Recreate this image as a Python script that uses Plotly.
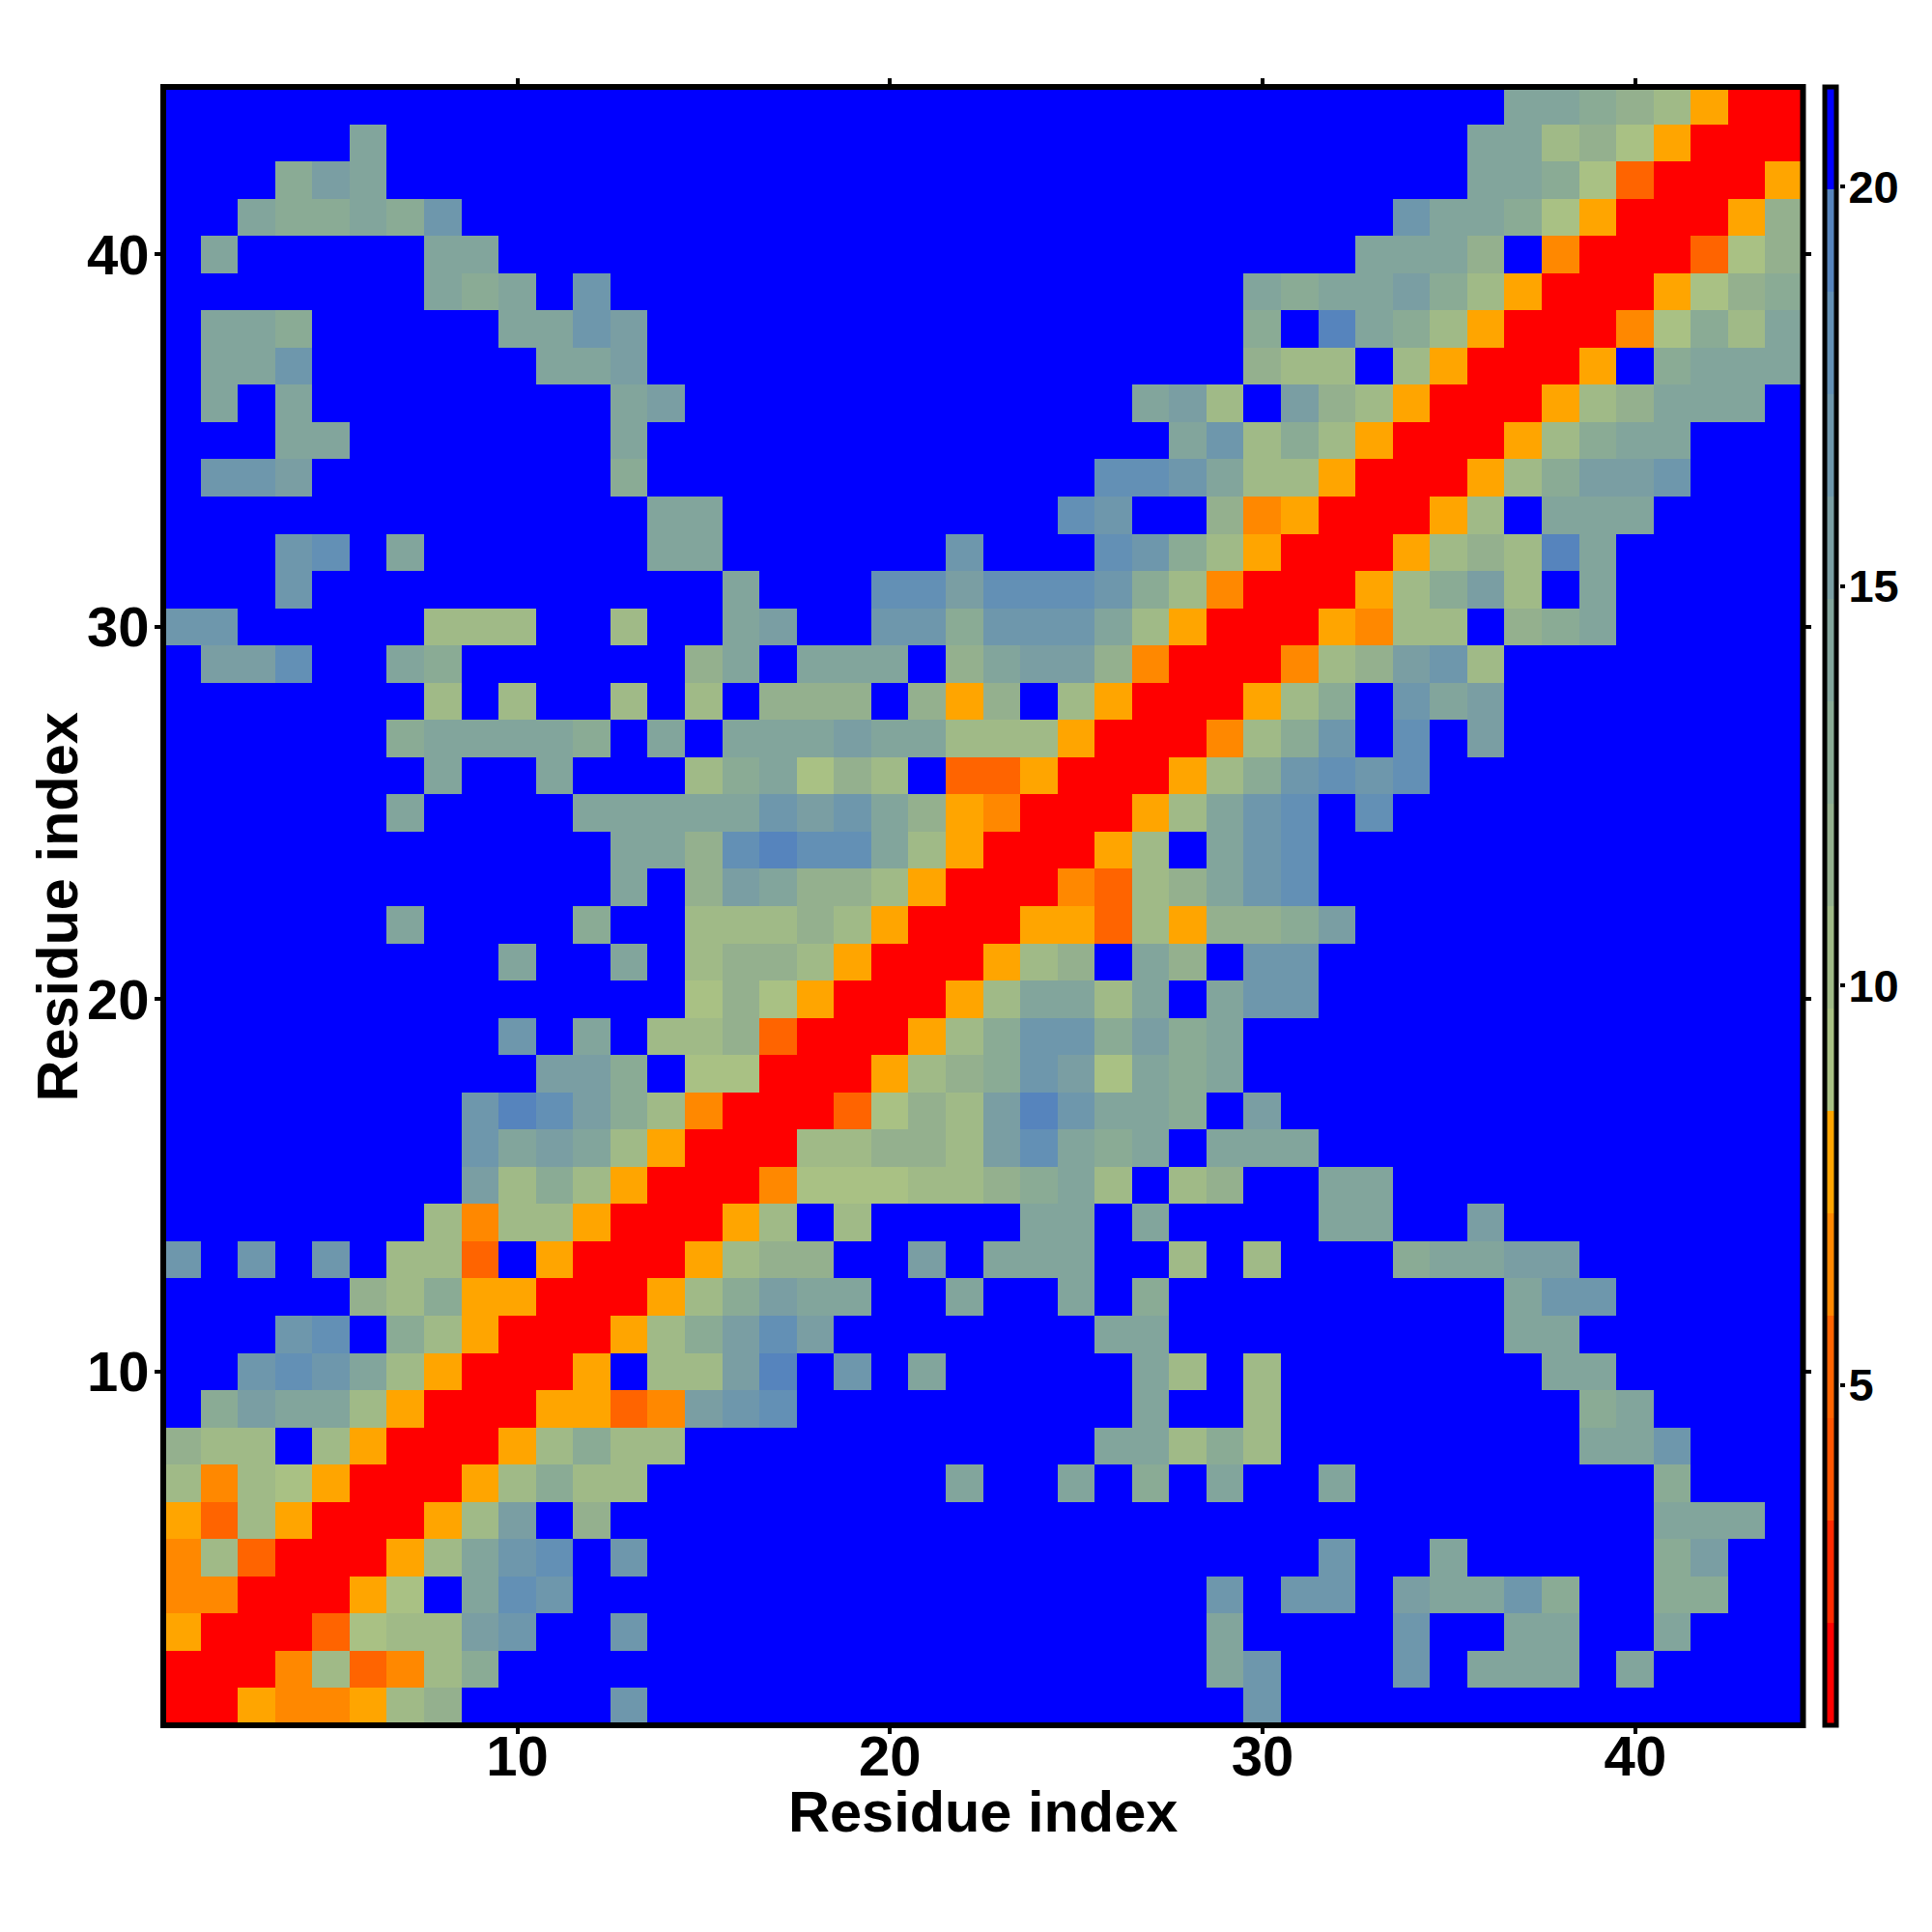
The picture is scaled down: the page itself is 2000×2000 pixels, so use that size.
import plotly.graph_objects as go

# Residue contact-distance map.  Each character is a
# colour band index (hex 0..F); rows run from residue 44 (top) down to residue 1.
left_half = [
    "FFFFFFFFFFFFFFFFFFFFFF", "FFFFFAFFFFFFFFFFFFFFFF", "FFF9BAFFFFFFFFFFFFFFFF", "FFA99A9CFFFFFFFFFFFFFF",
    "FAFFFFFAAFFFFFFFFFFFFF", "FFFFFFFA9AFCFFFFFFFFFF", "FAA9FFFFFAACBFFFFFFFFF", "FAACFFFFFFAABFFFFFFFFF",
    "FAFAFFFFFFFFABFFFFFFFF", "FFFAAFFFFFFFAFFFFFFFFF", "FCCBFFFFFFFF9FFFFFFFFF", "FFFFFFFFFFFFFAAFFFFFFF",
    "FFFCDFAFFFFFFAAFFFFFFC", "FFFCFFFFFFFFFFFAFFFDDB", "CCFFFFF777FF7FFABFFCC9", "FBBDFFA9FFFFFF8AFAAAF8",
    "FFFFFFF7F7FF7F7F888F85", "FFFFFF9AAAA9FAFAAABAA7", "FFFFFFFAFFAFFF79A687F3", "FFFFFFAFFFFAAAAACBCA85",
    "FFFFFFFFFFFFAA8DEDDA75", "FFFFFFFFFFFFAF8BA88750", "FFFFFFAFFFF9FF77787500", "FFFFFFFFFAFFAF78875000",
    "FFFFFFFFFFFFFF68650005", "FFFFFFFFFCFAF778300057", "FFFFFFFFFFBB9F66000578", "FFFFFFFFCEDB9740003687",
    "FFFFFFFFCABA7500077887", "FFFFFFFFB7975000466677", "FFFFFFF7477500057F7FFF", "CFCFCF773F50005788FFBF",
    "FFFFF87955000579BAAFFA", "FFFCDF975000579BDBFFFF", "FFCDCA750005F77BEFCFAF", "F9BAA750005534BCDFFFFF",
    "877F7500057977FFFFFFFF", "7476500057977FFFFFFFFA", "537500057BF8FFFFFFFFFF", "47300057ACDFCFFFFFFFFF",
    "4400056FADCFFFFFFFFFFF", "50003677BCFFCFFFFFFFFF", "000473479FFFFFFFFFFFFF", "00544578FFFFCFFFFFFFFF",
]
right_half = [
    "FFFFFFFFFFFFFFAA987500", "FFFFFFFFFFFFFAA7865000", "FFFFFFFFFFFFFAA9630005", "FFFFFFFFFFFCAA96500058",
    "FFFFFFFFFFAAA8F4000368", "FFFFFFFA9AAB9750005689", "FFFFFFF9FEA9750004697A", "FFFFFFF877F750005F9AAA",
    "FFFFAB7FB875000578AAAF", "FFFFFAC7975000579AAFFF", "FFFDDCA775000579BBCFFF", "FFDCFF84500057FAAAFFFF",
    "FFFDC9750005787EAFFFFF", "DDDC974000579B7FAFFFFF", "CCCA750005477F89AFFFFF", "ABB84000478BC7FFFFFFFF",
    "8F75000579FCABFFFFFFFF", "775000479CFDFBFFFFFFFF", "35000579CDCDFFFFFFFFFF", "400057ACDFDFFFFFFFFFFF",
    "00057FACDFFFFFFFFFFFFF", "004378ACDFFFFFFFFFFFFF", "055375889BFFFFFFFFFFFF", "578FA8FCCFFFFFFFFFFFFF",
    "7AA7AFACCFFFFFFFFFFFFF", "9CC9B9AFFFFFFFFFFFFFFF", "9CB6A9AFFFFFFFFFFFFFFF", "BECAA9FBFFFFFFFFFFFFFF",
    "BDA9AFAAAFFFFFFFFFFFFF", "89A7F78FFAAFFFFFFFFFFF", "FAAFAFFFFAAFFBFFFFFFFF", "AAAFF7F7FFF9AABBFFFFFF",
    "FFAF9FFFFFFFFFACCFFFFF", "FFFAAFFFFFFFFFAAFFFFFF", "FFFFA7F7FFFFFFFAAFFFFF", "FFFFAFF7FFFFFFFF9AFFFF",
    "FFFAA797FFFFFFFFAACFFF", "FFAF9FAFFAFFFFFFFF9FFF", "FFFFFFFFFFFFFFFFFFAAAF", "FFFFFFFFFCFFAFFFFF9BFF",
    "FFFFFFCFCCFBAAC9FF99FF", "FFFFFFAFFFFCFFAAFFAFFF", "FFFFFFACFFFCFAAAFAFFFF", "FFFFFFFCFFFFFFFFFFFFFF",
]
residues = list(range(1, 45))
tick_values = [10, 20, 30, 40]
bar_ticks = [5, 10, 15, 20]
band_colors = ["#ff0000", "#ff2a00", "#ff5500", "#ff6400", "#ff8800", "#ffa500",
               "#a9c184", "#a0ba87", "#94b08e", "#8aab95", "#82a59c", "#7a9ea3",
               "#6e97ac", "#6390b5", "#5684bd", "#0000ff"]
axis_title = "Residue index"
z_min, z_max = 0.74, 21.25

n = len(band_colors)
step = (z_max - z_min) / n
band_values = [z_min + step * (k + 0.5) for k in range(n)]
rows = [a + b for a, b in zip(left_half, right_half)][::-1]
z = [[band_values[int(c, 16)] for c in r] for r in rows]

scale = []
for k, col in enumerate(band_colors):
    scale.append([k / n, col])
    scale.append([(k + 1) / n, col])

W, H = 2000, 2000
PAGE = 8                                # the page's own body margin
L, R, T, B = 169.3 - PAGE, 1866.5 - PAGE, 89.5 - PAGE, 1786.3 - PAGE
RIGHT_EDGE = 1985
span = RIGHT_EDGE - L
FONT = "Liberation Sans"
tick_font = dict(family=FONT, size=58, color="black", weight=700)
title_font = dict(family=FONT, size=59.5, color="black", weight=700)

fig = go.Figure(go.Heatmap(
    x=residues, y=residues, z=z, zmin=z_min, zmax=z_max, colorscale=scale,
    colorbar=dict(
        x=(1889.5 - PAGE - L) / span, xanchor="left", y=0, yanchor="bottom", len=1,
        lenmode="fraction", ypad=0, xpad=0, thickness=12,
        outlinecolor="black", outlinewidth=5,
        ticks="", showticklabels=False,
    ),
))
# Invisible trace that keeps the colour bar's tick axis alive.
fig.add_trace(go.Scatter(x=[residues[0]], y=[bar_ticks[0]], yaxis="y2", mode="markers",
                         marker=dict(opacity=0), hoverinfo="skip", showlegend=False))
axis = dict(
    range=[0.5, 44.5], tickmode="array", tickvals=tick_values, ticks="outside",
    ticklen=8, tickwidth=4, tickcolor="black", showline=False,
    mirror="ticks", showgrid=False, zeroline=False, tickfont=tick_font,
)
fig.update_layout(
    width=W, height=H, autosize=False, paper_bgcolor="white", plot_bgcolor="white",
    margin=dict(l=L, r=W - RIGHT_EDGE, t=T, b=H - B, autoexpand=False),
    xaxis=dict(**axis, domain=[0, (R - L) / span], ticklabelstandoff=-27),
    yaxis=dict(**axis, ticklabelstandoff=-6),
    yaxis2=dict(range=[z_min, z_max], overlaying="y", side="right", anchor="free",
                position=(1904 - PAGE - L) / span, tickmode="array", tickvals=bar_ticks,
                ticks="outside", ticklen=5, tickwidth=4, tickcolor="black",
                showline=False, showgrid=False, zeroline=False, ticklabelstandoff=-6,
                tickfont=dict(family=FONT, size=47, color="black", weight=700)),
    shapes=[dict(type="rect", xref="x domain", yref="y domain", x0=0, x1=1, y0=0, y1=1,
                 line=dict(color="black", width=6), layer="above")],
    annotations=[
        dict(text=axis_title, xref="x domain", yref="y domain", x=0.5,
             y=-(1876 - 1786.3) / (1786.3 - 89.5), xanchor="center", yanchor="middle",
             showarrow=False, font=title_font),
        dict(text=axis_title, xref="x domain", yref="y domain",
             x=-(169.3 - 60) / (1866.5 - 169.3), y=0.4995, xanchor="center", yanchor="middle",
             textangle=-90, showarrow=False, font=title_font),
    ],
)
fig.write_html("out.html")
